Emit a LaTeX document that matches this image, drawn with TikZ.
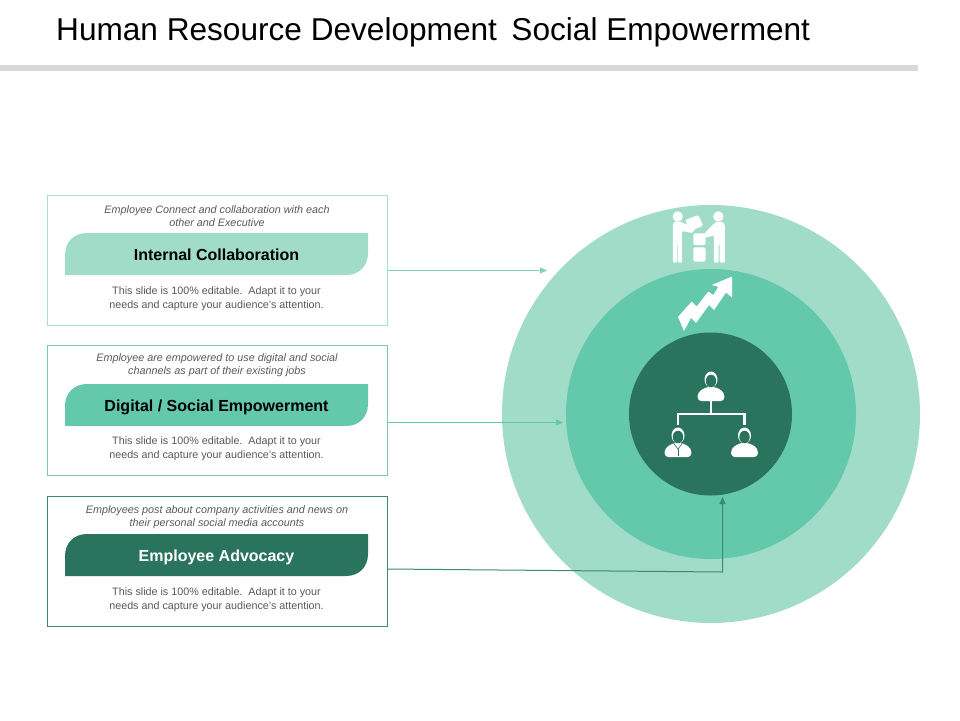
\documentclass[tikz,border=0pt]{standalone}
\usepackage{fontspec}
\setmainfont{Liberation Sans}
\usetikzlibrary{arrows.meta}
\definecolor{cLight}{HTML}{A0DCC8}
\definecolor{cMid}{HTML}{64C8AA}
\definecolor{cDark}{HTML}{2A735C}
\definecolor{cRule}{HTML}{D9D9D9}
\definecolor{cText}{HTML}{595959}
\definecolor{cFrameA}{HTML}{A8DFCD}
\definecolor{cFrameB}{HTML}{7CC7AE}
\definecolor{cFrameC}{HTML}{3C8A72}
\tikzset{
  framebox/.style={draw=#1,line width=1pt,fill=white,minimum width=340pt,minimum height=130pt,inner sep=0pt,anchor=north west},
  desc/.style={font=\fontsize{10.8}{13}\selectfont\itshape,text=cText,align=center,inner sep=0pt},
  bodytxt/.style={font=\fontsize{10.75}{13.5}\selectfont,text=cText,align=center,inner sep=0pt},
  headtxt/.style={font=\fontsize{16}{18}\selectfont\bfseries,inner sep=0pt,anchor=base},
  link/.style={draw=#1,line width=1pt,-{Triangle[length=7pt,width=6pt]}},
  ico/.style={fill=white,draw=none},
  disc/.style={circle,inner sep=0pt,minimum size=#1},
}
\newcommand{\slidepanel}[9]{%
  \node[framebox=#3] (#1box) at (47,#2) {};
  \fill[#4] (65,#9+42) -- (65,#9+22) .. controls (65,#9+9) and (74,#9) .. (87,#9) -- (368,#9) -- (368,#9+20) .. controls (368,#9+33) and (359,#9+42) .. (346,#9+42) -- cycle;
  \node[desc] (#1desc) at (217,#2+21.2) {#5};
  \node[headtxt,text=#6] (#1head) at (216.5,#9+27.6) {#7};
  \node[bodytxt] (#1body) at (216.5,#2+104) {This slide is 100\% editable.\ \ Adapt it to your\\needs and capture your audience's attention.};
  \coordinate (#1out) at (387,#8);
}
\newcommand{\orgperson}[2]{%
  \fill[ico,rounded corners=3.5pt] (#1-13.3,#2+21.5) -- (#1-13.3,#2+13) -- (#1-5,#2+7.5) -- (#1+5,#2+7.5) -- (#1+13.3,#2+13) -- (#1+13.3,#2+21.5) -- cycle;
  \fill[ico] (#1,#2) ellipse [x radius=6.5pt,y radius=8pt];
  \fill[cDark] (#1,#2+1.5) ellipse [x radius=5.2pt,y radius=6.3pt];
}
\begin{document}
\begin{tikzpicture}[x=1pt,y=-1pt]
\useasboundingbox (0,0) rectangle (960,720);
\fill[white] (0,0) rectangle (960,720);
\node[anchor=base west,inner sep=0pt,font=\fontsize{31.6}{36}\selectfont,text=black] (title) at (56,40.5) {Human Resource Development\hspace{.46em}Social Empowerment};
\fill[cRule] (0,65) rectangle (918,71);

\node[disc=418pt,fill=cLight] (outer) at (711,414) {};
\node[disc=290pt,fill=cMid] (middle) at (711,414) {};
\node[disc=163pt,fill=cDark] (inner) at (710.5,414) {};

\slidepanel{a}{194.5}{cFrameA}{cLight}{Employee Connect and collaboration with each\\other and Executive}{black}{Internal Collaboration}{270.5}{233}
\slidepanel{b}{344.5}{cFrameB}{cMid}{Employee are empowered to use digital and social\\channels as part of their existing jobs}{black}{Digital / Social Empowerment}{422.5}{384}
\slidepanel{c}{495.5}{cFrameC}{cDark}{Employees post about company activities and news on\\their personal social media accounts}{white}{Employee Advocacy}{569}{534}

\coordinate (aend) at (547,270.5);
\coordinate (bend) at (563,422.5);
\coordinate (cbend) at (722.5,572);
\coordinate (cend) at (722.5,497);
\draw[link=cMid!80!white] (aout) -- (aend);
\draw[link=cMid] (bout) -- (bend);
\draw[link=cFrameC] (cout) -- (cbend) -- (cend);

% handover icon
\fill[ico] (677.7,216.5) circle (5.2pt);
\fill[ico] (718.3,216.5) circle (5.2pt);
\fill[ico,rounded corners=1pt] (672.8,224) -- (675,221.5) -- (680,221.5) -- (695.5,228.5) -- (692,233) -- (682.2,231) -- (682.2,262.5) -- (677.9,262.5) -- (677.9,244) -- (677.1,244) -- (677.1,262.5) -- (672.8,262.5) -- cycle;
\fill[ico,rounded corners=1pt] (724.8,225) -- (722.5,221.8) -- (716,221.8) -- (704.5,233) -- (705.5,237.8) -- (713.8,235.5) -- (713.8,262.5) -- (718.7,262.5) -- (718.7,244) -- (719.5,244) -- (719.5,262.5) -- (724.8,262.5) -- cycle;
\fill[ico,rounded corners=1.5pt] (685,220) -- (698.3,215) -- (703.3,225.7) -- (690,231) -- cycle;
\fill[ico,rounded corners=1.5pt] (693.3,233.3) rectangle (705.5,245);
\fill[ico,rounded corners=1.5pt] (693.3,247.3) rectangle (705.5,261.7);

% growth arrow icon
\fill[ico] (678,317) -- (691.7,301.5) -- (696.7,306.5) -- (708.3,291.5) -- (713.3,295) -- (718.3,287) -- (711.7,285) -- (732,276.5) -- (732,297.5) -- (726,292.5) -- (714,310) -- (709,305) -- (696,323) -- (691,318) -- (684,331) -- cycle;

% organisation icon
\draw[white,line width=2.4pt] (711,401) -- (711,414);
\draw[white,line width=2.4pt] (678,425) -- (678,414) -- (744.5,414) -- (744.5,425);
\orgperson{711}{379.5}
\orgperson{678}{435.5}
\orgperson{744.5}{435.5}
\draw[cDark,line width=.6pt] (673.5,443.5) -- (678,449) -- (682.5,443.5);
\draw[cDark,line width=1pt] (678,449) -- (678,456);
\end{tikzpicture}
\end{document}
